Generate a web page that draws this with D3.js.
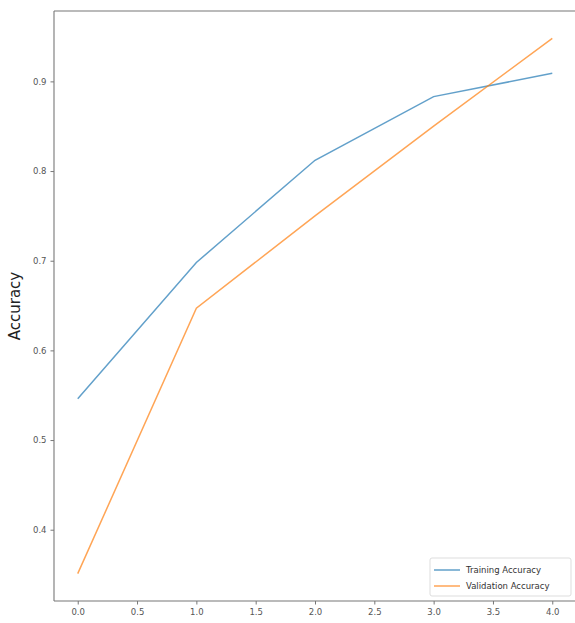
<!DOCTYPE html>
<html><head><meta charset="utf-8">
<script src="https://cdn.jsdelivr.net/npm/d3@7"></script>
<style>body{margin:0;background:#fff;overflow:hidden;} text{font-family:"DejaVu Sans",sans-serif;}</style>
</head><body>
<svg id="chart" width="575" height="623"></svg>
<script>
const epochs = [0, 1, 2, 3, 4];
const trainingAccuracy = [0.546, 0.698, 0.812, 0.883, 0.909];
const validationAccuracy = [0.351, 0.647, 0.750, 0.850, 0.948];
const xTicks = [0, 0.5, 1, 1.5, 2, 2.5, 3, 3.5, 4];
const yTicks = [0.4, 0.5, 0.6, 0.7, 0.8, 0.9];
const seriesNames = ["Training Accuracy", "Validation Accuracy"];
const colors = ["#1f77b4", "#ff7f0e"];

const svg = d3.select("#chart");
const L = 54, R = 576, T = 11, B = 601;
const x = d3.scaleLinear().domain([-0.2, 4.2]).range([L, R]);
const y = d3.scaleLinear().domain([0.3205, 0.9785]).range([B, T]);

// spines (right spine falls outside the picture)
const sp = svg.append("g").attr("stroke", "#777").attr("stroke-width", 1.1);
sp.append("line").attr("x1", L).attr("x2", L).attr("y1", T).attr("y2", B);
sp.append("line").attr("x1", L).attr("x2", 575).attr("y1", T).attr("y2", T);
sp.append("line").attr("x1", L).attr("x2", 575).attr("y1", B).attr("y2", B);

const xAxis = svg.append("g").attr("transform", `translate(0,${B})`)
  .call(d3.axisBottom(x).tickValues(xTicks).tickFormat(d3.format(".1f")).tickSize(3.5).tickPadding(4));
const yAxis = svg.append("g").attr("transform", `translate(${L},0)`)
  .call(d3.axisLeft(y).tickValues(yTicks).tickFormat(d3.format(".1f")).tickSize(3.5).tickPadding(4));
[xAxis, yAxis].forEach(g => {
  g.select(".domain").remove();
  g.selectAll(".tick line").attr("stroke", "#777");
  g.selectAll(".tick text").attr("fill", "#555").style("font-size", "8.5px").style("font-family", "DejaVu Sans");
});

svg.append("text").attr("transform", "translate(20,306) rotate(-90)")
  .attr("text-anchor", "middle").style("font-size", "15px").attr("fill", "#222").text("Accuracy");

const line = d3.line().x((d, i) => x(epochs[i])).y(d => y(d));
[trainingAccuracy, validationAccuracy].forEach((s, k) => {
  svg.append("path").datum(s).attr("d", line).attr("fill", "none")
    .attr("stroke", colors[k]).attr("stroke-width", 1.5).attr("stroke-opacity", 0.7);
});

// legend
const lg = svg.append("g");
lg.append("rect").attr("x", 430).attr("y", 558).attr("width", 141).attr("height", 38).attr("rx", 2)
  .attr("fill", "#fff").attr("fill-opacity", 0.8).attr("stroke", "#ddd");
seriesNames.forEach((n, k) => {
  const yy = 570 + k * 16;
  lg.append("line").attr("x1", 434).attr("x2", 460).attr("y1", yy).attr("y2", yy)
    .attr("stroke", colors[k]).attr("stroke-width", 1.5).attr("stroke-opacity", 0.7);
  lg.append("text").attr("x", 466).attr("y", yy + 3).style("font-size", "8.5px").attr("fill", "#333").text(n);
});
</script>
</body></html>
